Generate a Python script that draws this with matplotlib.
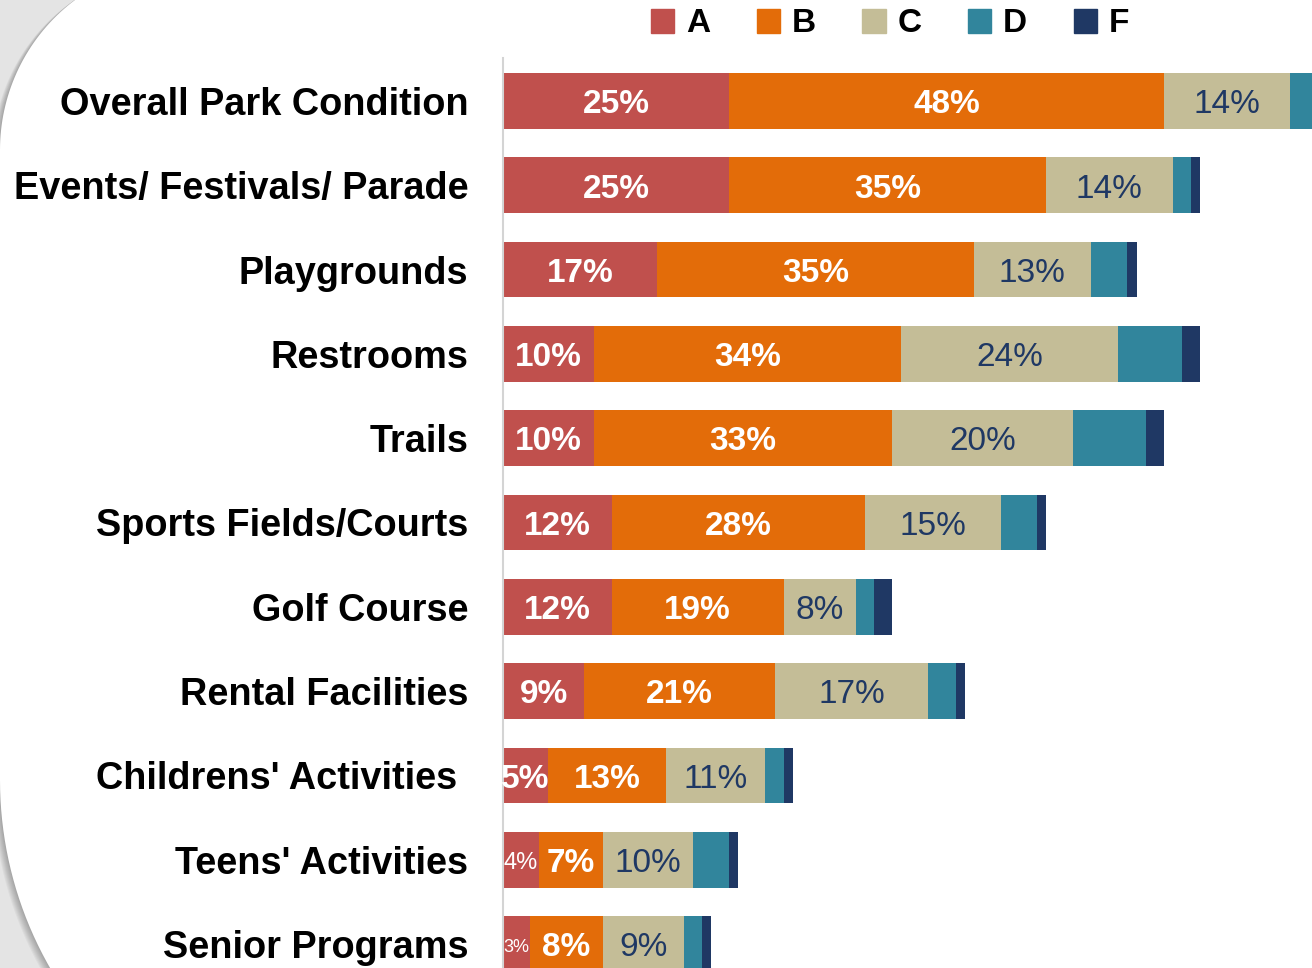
import numpy as np
import matplotlib.pyplot as plt
from matplotlib.patches import Polygon, Patch

plt.rcParams['font.family'] = ['Liberation Sans', 'DejaVu Sans']

categories = ["Overall Park Condition", "Events/ Festivals/ Parade", "Playgrounds",
              "Restrooms", "Trails", "Sports Fields/Courts", "Golf Course",
              "Rental Facilities", "Childrens' Activities", "Teens' Activities",
              "Senior Programs"]
grade_a = [25, 25, 17, 10, 10, 12, 12, 9, 5, 4, 3]
grade_b = [48, 35, 35, 34, 33, 28, 19, 21, 13, 7, 8]
grade_c = [14, 14, 13, 24, 20, 15, 8, 17, 11, 10, 9]
grade_d = [4, 2, 4, 7, 8, 4, 2, 3, 2, 4, 2]
grade_f = [1, 1, 1, 2, 2, 1, 2, 1, 1, 1, 1]
grades = ["A", "B", "C", "D", "F"]
colors = ["#c0504d", "#e36c09", "#c4bd97", "#31859c", "#1f3864"]

W, H = 1312, 968
fig = plt.figure(figsize=(W / 100, H / 100), dpi=100)
fig.patch.set_facecolor("#e4e4e4")

# fondo: tarjeta blanca con esquinas redondeadas a la izquierda
bg = fig.add_axes([0, 0, 1, 1], zorder=-5)
bg.set_xlim(0, W); bg.set_ylim(H, 0); bg.axis("off")


def card(dx=0, dy=0):
    r1, c1 = 187.5, (187.5, 150)
    r2, c2 = 378, (378, 780)
    t1 = np.linspace(np.pi, 1.5 * np.pi, 60)
    t2 = np.linspace(0.5 * np.pi, np.pi, 60)
    pts = [(c1[0] + r1 * np.cos(t), c1[1] + r1 * np.sin(t)) for t in t1]
    pts += [(2000, c1[1] - r1), (2000, c2[1] + r2)]
    pts += [(c2[0] + r2 * np.cos(t), c2[1] + r2 * np.sin(t)) for t in t2]
    return np.array(pts) + [dx, dy]


for k in range(8, 0, -1):
    bg.add_patch(Polygon(card(-k * 0.9, k * 0.6), closed=True, color="black",
                         alpha=0.035, lw=0))
bg.add_patch(Polygon(card(), closed=True, color="white", lw=0))

# barras apiladas
ax = fig.add_axes([503 / W, 0, 809 / W, (H - 58) / H])
ax.set_facecolor("none")
y = np.arange(len(categories))
series = [grade_a, grade_b, grade_c, grade_d, grade_f]
left = np.zeros(len(categories))
for vals, col in zip(series, colors):
    ax.barh(y, vals, left=left, height=0.66, color=col, lw=0)
    left += np.array(vals)

left = np.zeros(len(categories))
for s, vals in enumerate(series[:3]):
    for i, v in enumerate(vals):
        cx = left[i] + v / 2
        yy = i + 0.045
        if s == 2:
            ax.text(cx, yy, f"{v}%", ha="center", va="center", fontsize=24,
                    color="#1f3864")
        else:
            size, wt = 24, "bold"
            if v <= 3:
                size, wt = 13, "normal"
            elif v <= 4 and s == 0:
                size, wt = 17, "normal"
            ax.text(cx, yy, f"{v}%", ha="center", va="center", fontsize=size,
                    color="white", fontweight=wt)
    left += np.array(vals)

ax.set_xlim(0, 809 / 9.05)
ax.set_ylim((H - 101) / 84.3, (58 - 101) / 84.3)
ax.set_yticks(y)
ax.set_yticklabels(categories, fontsize=27.3, fontweight="bold")
ax.tick_params(axis="y", length=0, pad=25)
ax.get_yticklabels()[8].set_x(-11 / 809)  # "Childrens' Activities" un poco mas a la izquierda
ax.set_xticks([])
for sp in ["top", "right", "bottom"]:
    ax.spines[sp].set_visible(False)
ax.spines["left"].set_color("#d4d4d4")
ax.spines["left"].set_linewidth(1.5)

handles = [Patch(color=c, label=g) for g, c in zip(grades, colors)]
fig.legend(handles=handles, loc="center", bbox_to_anchor=(890 / W, 1 - 24 / H),
           ncol=5, frameon=False, prop={"size": 24, "weight": "bold"},
           handlelength=0.7, handleheight=0.7, handletextpad=0.35,
           columnspacing=1.4)

fig.savefig("out.png", dpi=100)
